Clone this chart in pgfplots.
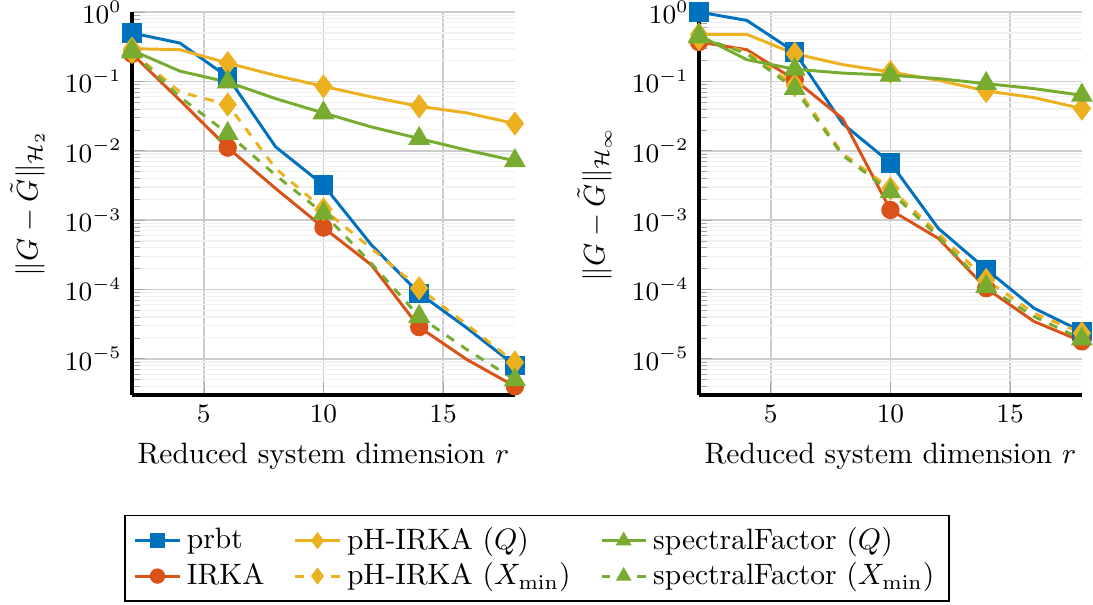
\documentclass[border=0pt]{standalone}
\usepackage{pgfplots}
\usepackage{pgfplotstable}
\pgfplotsset{compat=1.18}
\definecolor{mblue}{RGB}{0,114,189}
\definecolor{mred}{RGB}{217,83,25}
\definecolor{myellow}{RGB}{237,177,32}
\definecolor{mgreen}{RGB}{119,172,48}

% H2 errors
\pgfplotstableread{
r  prbt     irka     phq     phx      sfq     sfx
2  0.50     0.25     0.297   0.266    0.281   0.266
4  0.358    0.0535   0.287   0.0705   0.141   0.0598
6  0.116    0.0111   0.184   0.0464   0.098   0.0177
8  0.0114   0.00286  0.122   0.00556  0.0565  0.00445
10 0.0032   0.00078  0.085   0.00143  0.0351  0.00125
12 0.00044  0.000226 0.0598  0.000392 0.0221  0.000238
14 8.8e-5   2.86e-5  0.0438  0.000104 0.0150  4.07e-5
16 2.77e-5  9.7e-6   0.0351  3.09e-5  0.0102  1.35e-5
18 8.0e-6   4.0e-6   0.0247  8.85e-6  0.00716 4.99e-6
}\Htwo

% Hinf errors
\pgfplotstableread{
r  prbt     irka     phq     phx      sfq     sfx
2  1.0      0.37     0.477   0.413    0.461   0.437
4  0.759    0.287    0.477   0.266    0.206   0.251
6  0.266    0.106    0.251   0.088    0.150   0.0788
8  0.0247   0.0291   0.175   0.0091   0.132   0.0086
10 0.0067   0.0014   0.137   0.00286  0.123   0.00256
12 0.00076  0.000546 0.104   0.000644 0.110   0.000577
14 0.000195 0.000104 0.0729  0.000137 0.093   0.000110
16 5.36e-5  3.45e-5  0.0585  4.54e-5  0.0788  4.07e-5
18 2.47e-5  1.78e-5  0.0406  2.34e-5  0.0631  1.92e-5
}\Hinf

\tikzset{
  sprbt/.style={color=mblue, line width=1pt, mark=square*, mark size=2.8pt},
  sirka/.style={color=mred, line width=1pt, mark=*, mark size=2.6pt},
  sphq/.style={color=myellow, line width=1pt, mark=diamond*, mark size=3.3pt},
  sphx/.style={color=myellow, line width=1pt, dashed, mark=diamond*, mark size=3.3pt, mark options={solid}},
  ssfq/.style={color=mgreen, line width=1pt, mark=triangle*, mark size=3.3pt},
  ssfx/.style={color=mgreen, line width=1pt, dashed, mark=triangle*, mark size=3.3pt, mark options={solid}},
}
\newcommand{\gap}{\rule{8pt}{0pt}}

\begin{document}
\begin{tikzpicture}
\useasboundingbox (-44.75pt,-70.85pt) rectangle (325.76pt,133.9pt);

\begin{axis}[
  scale only axis,
  width=129.8pt, height=129.8pt,
  at={(0pt,0pt)}, anchor=south west,
  ymode=log,
  xmin=2, xmax=18, ymin=3e-6, ymax=1,
  xtick={5,10,15},
  axis lines=left,
  axis line style={-, line width=1.2pt},
  grid=both,
  major grid style={gray!40, line width=0.5pt},
  minor grid style={gray!12, line width=0.4pt},
  tick style={gray!70},
  tick align=inside,
  ticklabel style={font=\small},
  xlabel={Reduced system dimension $r$},
  ylabel={$\|G-\tilde{G}\|_{\mathcal{H}_2}$},
  legend columns=3,
  legend cell align=left,
  legend image code/.code={
    \draw[mark repeat=2, mark phase=2] plot coordinates {(0pt,0pt) (7.5pt,0pt) (15pt,0pt)};
  },
  legend image post style={mark size=2.1pt},
  legend style={
    at={(1.058,-0.313)}, anchor=north,
    draw=black, line width=0.5pt, font=\normalsize,
    row sep=-1pt,
  },
]
\addplot[sprbt, mark repeat=2, forget plot] table[x=r, y=prbt] {\Htwo};
\addplot[sirka, mark repeat=2, forget plot] table[x=r, y=irka] {\Htwo};
\addplot[sphq, mark repeat=2, forget plot] table[x=r, y=phq] {\Htwo};
\addplot[sphx, mark repeat=2, forget plot] table[x=r, y=phx] {\Htwo};
\addplot[ssfq, mark repeat=2, forget plot] table[x=r, y=sfq] {\Htwo};
\addplot[ssfx, mark repeat=2, forget plot] table[x=r, y=sfx] {\Htwo};

\addlegendimage{sprbt}
\addlegendentry{prbt\gap}
\addlegendimage{sphq}
\addlegendentry{pH-IRKA ($Q$)\gap}
\addlegendimage{ssfq}
\addlegendentry{spectralFactor ($Q$)}
\addlegendimage{sirka}
\addlegendentry{IRKA\gap}
\addlegendimage{sphx}
\addlegendentry{pH-IRKA ($X_{\min}$)\gap}
\addlegendimage{ssfx}
\addlegendentry{spectralFactor ($X_{\min}$)}
\end{axis}

\begin{axis}[
  scale only axis,
  width=129.8pt, height=129.8pt,
  at={(192.2pt,0pt)}, anchor=south west,
  ymode=log,
  xmin=2, xmax=18, ymin=3e-6, ymax=1,
  xtick={5,10,15},
  axis lines=left,
  axis line style={-, line width=1.2pt},
  grid=both,
  major grid style={gray!40, line width=0.5pt},
  minor grid style={gray!12, line width=0.4pt},
  tick style={gray!70},
  tick align=inside,
  ticklabel style={font=\small},
  xlabel={Reduced system dimension $r$},
  ylabel={$\|G-\tilde{G}\|_{\mathcal{H}_\infty}$},
]
\addplot[sprbt, mark repeat=2] table[x=r, y=prbt] {\Hinf};
\addplot[sirka, mark repeat=2] table[x=r, y=irka] {\Hinf};
\addplot[sphq, mark repeat=2] table[x=r, y=phq] {\Hinf};
\addplot[sphx, mark repeat=2] table[x=r, y=phx] {\Hinf};
\addplot[ssfq, mark repeat=2] table[x=r, y=sfq] {\Hinf};
\addplot[ssfx, mark repeat=2] table[x=r, y=sfx] {\Hinf};
\end{axis}
\end{tikzpicture}
\end{document}
